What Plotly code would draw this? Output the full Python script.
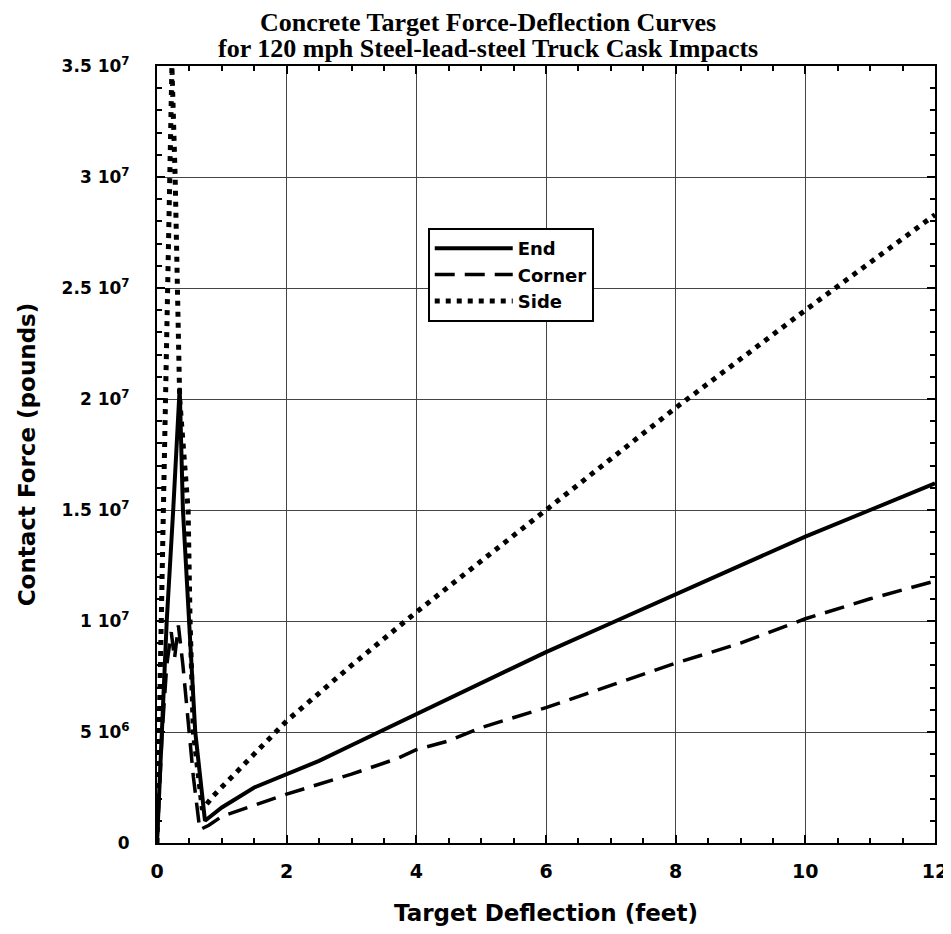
import plotly.graph_objects as go

# ---- data ----
end_x = [0, 0.15, 0.25, 0.35, 0.40, 0.59, 0.74, 1.0, 1.5, 2.0, 2.5, 3.0, 3.5, 4.0, 5.0, 6.0, 7.0, 8.0, 9.0, 10.0, 11.0, 12.0]
end_y = [0, 1.0e7, 1.5e7, 2.05e7, 1.5e7, 5.0e6, 1.0e6, 1.6e6, 2.5e6, 3.1e6, 3.7e6, 4.4e6, 5.1e6, 5.8e6, 7.2e6, 8.6e6, 9.9e6, 11.2e6, 12.5e6, 13.8e6, 15.0e6, 16.2e6]

corner_x = [0, 0.08, 0.15, 0.22, 0.27, 0.33, 0.40, 0.50, 0.56, 0.66, 0.8, 1.0, 1.5, 2.0, 3.0, 3.7, 4.0, 4.5, 5.0, 6.0, 7.0, 8.0, 9.0, 10.0, 11.0, 12.0]
corner_y = [0, 5.0e6, 8.0e6, 9.5e6, 8.3e6, 9.8e6, 8.0e6, 5.0e6, 3.0e6, 0.6e6, 0.8e6, 1.2e6, 1.7e6, 2.2e6, 3.1e6, 3.8e6, 4.2e6, 4.6e6, 5.2e6, 6.1e6, 7.1e6, 8.1e6, 9.0e6, 10.1e6, 11.0e6, 11.8e6]

side_x = [0, 0.05, 0.10, 0.15, 0.19, 0.23, 0.28, 0.35, 0.48, 0.51, 0.56, 0.70, 0.86, 2.0, 3.0, 4.0, 6.0, 8.0, 10.0, 12.0]
side_y = [0, 8.0e6, 1.5e7, 2.2e7, 3.0e7, 3.5e7, 3.0e7, 2.0e7, 1.5e7, 1.0e7, 5.0e6, 1.5e6, 2.1e6, 5.5e6, 8.0e6, 1.04e7, 1.5e7, 1.96e7, 2.4e7, 2.83e7]

x_ticks = [0, 2, 4, 6, 8, 10, 12]
y_ticks = [0, 5e6, 1e7, 1.5e7, 2e7, 2.5e7, 3e7, 3.5e7]
y_ticktext = ["0", "5 10<sup>6</sup>", "1 10<sup>7</sup>", "1.5 10<sup>7</sup>", "2 10<sup>7</sup>",
              "2.5 10<sup>7</sup>", "3 10<sup>7</sup>", "3.5 10<sup>7</sup>"]

title_lines = ["Concrete Target Force-Deflection Curves",
               "for 120 mph Steel-lead-steel Truck Cask Impacts"]

SANS = "DejaVu Sans"
SERIF = "Liberation Serif"

fig = go.Figure()
fig.add_trace(go.Scatter(x=end_x, y=end_y, mode="lines", name="End",
                         line=dict(color="black", width=4)))
fig.add_trace(go.Scatter(x=corner_x, y=corner_y, mode="lines", name="Corner",
                         line=dict(color="black", width=3.5, dash="20px,10px")))
fig.add_trace(go.Scatter(x=side_x, y=side_y, mode="lines", name="Side",
                         line=dict(color="black", width=5, dash="5px,6px")))

axis_common = dict(
    showline=True, linecolor="black", linewidth=2, mirror="ticks",
    ticks="inside", ticklen=8, tickwidth=1.5, tickcolor="black",
    showgrid=True, gridcolor="#444444", gridwidth=1,
    zeroline=False, ticklabeloverflow="allow", automargin=False,
)

fig.update_xaxes(
    range=[0, 12], tickvals=x_ticks, ticktext=[f"<b>{v}</b>" for v in x_ticks],
    tickfont=dict(family=SANS, size=19, color="black"),
    minor=dict(dtick=0.5, ticks="inside", ticklen=5, tickcolor="black", showgrid=False),
    title=dict(text="<b>Target Deflection (feet)</b>",
               font=dict(family=SANS, size=23, color="black"), standoff=28),
    ticklabelstandoff=10,
    **axis_common,
)
fig.update_yaxes(
    range=[0, 3.5e7], tickvals=y_ticks, ticktext=[f"<b>{t}</b>" for t in y_ticktext],
    tickfont=dict(family=SANS, size=17, color="black"),
    minor=dict(dtick=1e6, ticks="inside", ticklen=5, tickcolor="black", showgrid=False),
    title=dict(text="<b>Contact Force (pounds)</b>",
               font=dict(family=SANS, size=23, color="black"), standoff=20),
    ticklabelstandoff=22,
    **axis_common,
)

# page body has an 8px margin; size/margins compensate so plot area sits at 157..935 x 66..843
fig.update_layout(
    width=943, height=918,
    margin=dict(l=149, r=16, t=58, b=83, autoexpand=False),
    paper_bgcolor="white", plot_bgcolor="white",
    legend=dict(x=0.348, y=0.7915, xanchor="left", yanchor="top",
                bgcolor="white", bordercolor="black", borderwidth=2,
                font=dict(family=SANS, size=18, color="black", weight="bold"),
                itemwidth=78, tracegroupgap=0),
    showlegend=True,
)

fig.add_annotation(text=f"<b>{title_lines[0]}</b>", xref="paper", yref="paper",
                   x=0.4254, y=(843 - 23) / 777, xanchor="center", yanchor="middle", showarrow=False,
                   font=dict(family=SERIF, size=26, color="black"))
fig.add_annotation(text=f"<b>{title_lines[1]}</b>", xref="paper", yref="paper",
                   x=0.4254, y=(843 - 49) / 777, xanchor="center", yanchor="middle", showarrow=False,
                   font=dict(family=SERIF, size=26, color="black"))

fig.write_html("out.html")
